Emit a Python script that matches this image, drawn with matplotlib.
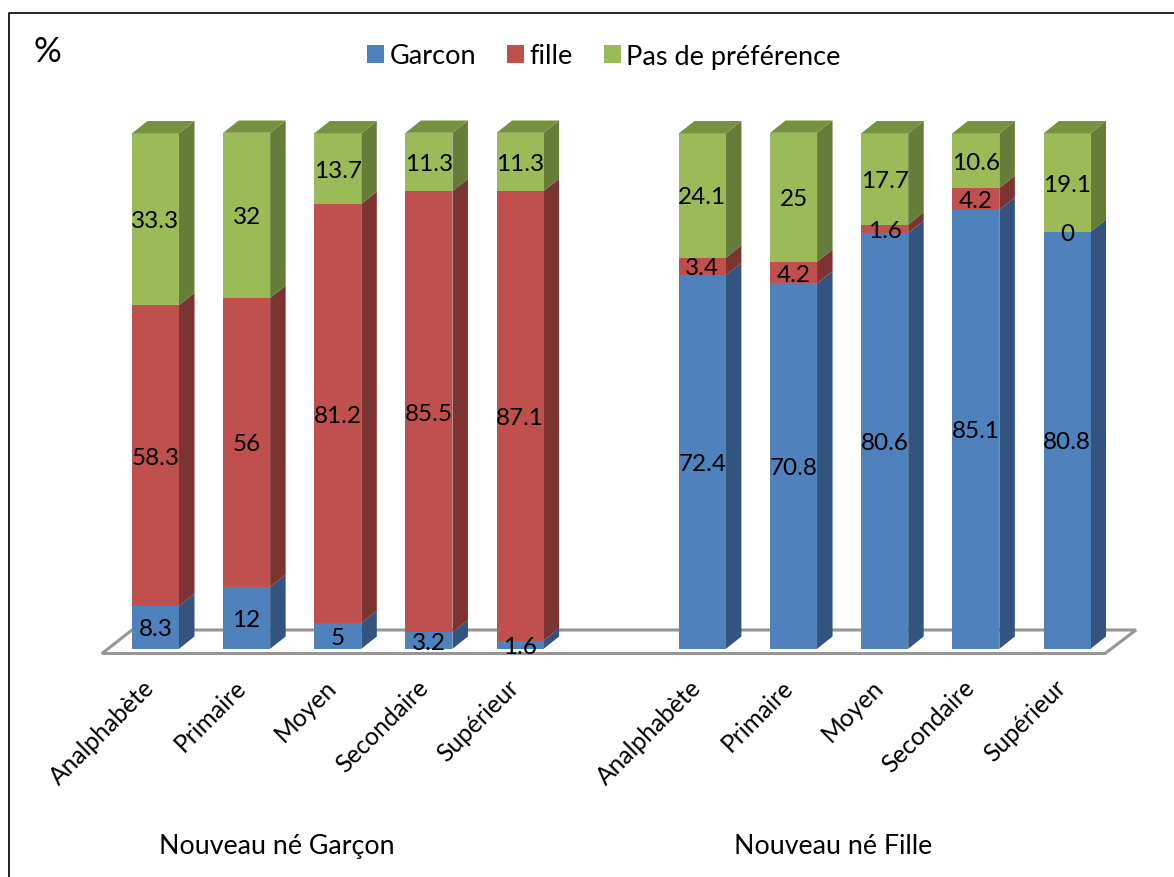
import matplotlib
matplotlib.use("Agg")
import matplotlib.pyplot as plt
import numpy as np
from matplotlib.lines import Line2D
from matplotlib.patches import Patch, Polygon

plt.rcParams['font.family'] = ['Lato', 'DejaVu Sans']

levels = ["Analphabète", "Primaire", "Moyen", "Secondaire", "Supérieur"]
series_names = ["Garcon", "fille", "Pas de préférence"]
group_names = ["Nouveau né Garçon", "Nouveau né Fille"]

garcon = [8.3, 12, 5, 3.2, 1.6, 72.4, 70.8, 80.6, 85.1, 80.8]
fille = [58.3, 56, 81.2, 85.5, 87.1, 3.4, 4.2, 1.6, 4.2, 0]
pas_pref = [33.3, 32, 13.7, 11.3, 11.3, 24.1, 25, 17.7, 10.6, 19.1]

W, H = 1174, 878
X0, X_STEP = 155.5, 91.15  # pixel of first bar centre, pixels per category
Y0, Y_STEP = 649.8, 5.16  # pixel of baseline, pixels per percent

front = ["#4F81BD", "#C0504D", "#9BBB59"]
side = ["#32547E", "#7B3432", "#667C39"]
top = ["#3E6797", "#99403D", "#77923F"]

bar_w = 47 / X_STEP
dx = 15.5 / X_STEP
dy = 12.3 / Y_STEP

positions = np.array([0, 1, 2, 3, 4, 6, 7, 8, 9, 10], dtype=float)

fig = plt.figure(figsize=(W / 100, H / 100), dpi=100)
ax = fig.add_axes([0, 0, 1, 1])
ax.set_xlim(-X0 / X_STEP, (W - X0) / X_STEP)
ax.set_ylim((Y0 - H) / Y_STEP, Y0 / Y_STEP)
ax.axis("off")


def px_x(p):
    return (p - X0) / X_STEP


def px_y(p):
    return (Y0 - p) / Y_STEP


# floor of the 3D chart
floor = [(px_x(102), px_y(654.5)), (px_x(1105), px_y(654.5)), (px_x(1136), px_y(631)), (px_x(132), px_y(631))]
ax.add_patch(Polygon(floor, closed=True, facecolor="white", edgecolor="#969696", linewidth=2.2, zorder=1))

values = np.array([garcon, fille, pas_pref])
bottoms = np.vstack([np.zeros(len(garcon)), np.cumsum(values, axis=0)[:-1]])

for s in range(3):
    for x, b, v in zip(positions, bottoms[s], values[s]):
        right = x + bar_w / 2
        ax.add_patch(Polygon([(right, b), (right, b + v), (right + dx, b + v + dy), (right + dx, b + dy)],
                             closed=True, facecolor=side[s], edgecolor="none", zorder=2))
    ax.bar(positions, values[s], bar_w, bottom=bottoms[s], color=front[s], zorder=3)

# lid on top of each stack
for x, b, v in zip(positions, bottoms[2], values[2]):
    left, right, t = x - bar_w / 2, x + bar_w / 2, b + v
    ax.add_patch(Polygon([(left, t), (right, t), (right + dx, t + dy), (left + dx, t + dy)],
                         closed=True, facecolor=top[2], edgecolor="none", zorder=3))

for s in range(3):
    for x, b, v in zip(positions, bottoms[s], values[s]):
        ax.text(x, b + v / 2 - 1.5 / Y_STEP, f"{v:g}", ha="center", va="center", fontsize=17.5, color="black",
                zorder=5)

for x, lab in zip(positions, levels + levels):
    ax.text(x - 13 / X_STEP, -26 / Y_STEP, lab, rotation=45, ha="right", va="top", rotation_mode="anchor",
            fontsize=17.7, color="black", zorder=5)

fig.text(277 / W, 1 - 847 / H, group_names[0], ha="center", va="center", fontsize=19.3)
fig.text(833 / W, 1 - 847 / H, group_names[1], ha="center", va="center", fontsize=19.3)
fig.text(47 / W, 1 - 52 / H, "%", ha="center", va="center", fontsize=25)

handles = [Patch(facecolor=c, label=n) for c, n in zip(front, series_names)]
fig.legend(handles=handles, loc="center", bbox_to_anchor=(604 / W, 1 - 57 / H), ncol=3, frameon=False,
           fontsize=19.5, handlelength=0.62, handleheight=0.62, handletextpad=0.2, columnspacing=1.16)

# page frame, cut by the right and bottom edges of the picture
fig.add_artist(Line2D([9 / W, 9 / W, 1], [0, 1 - 14 / H, 1 - 14 / H], color="black", linewidth=1.2))

fig.savefig("out.png", dpi=100)
